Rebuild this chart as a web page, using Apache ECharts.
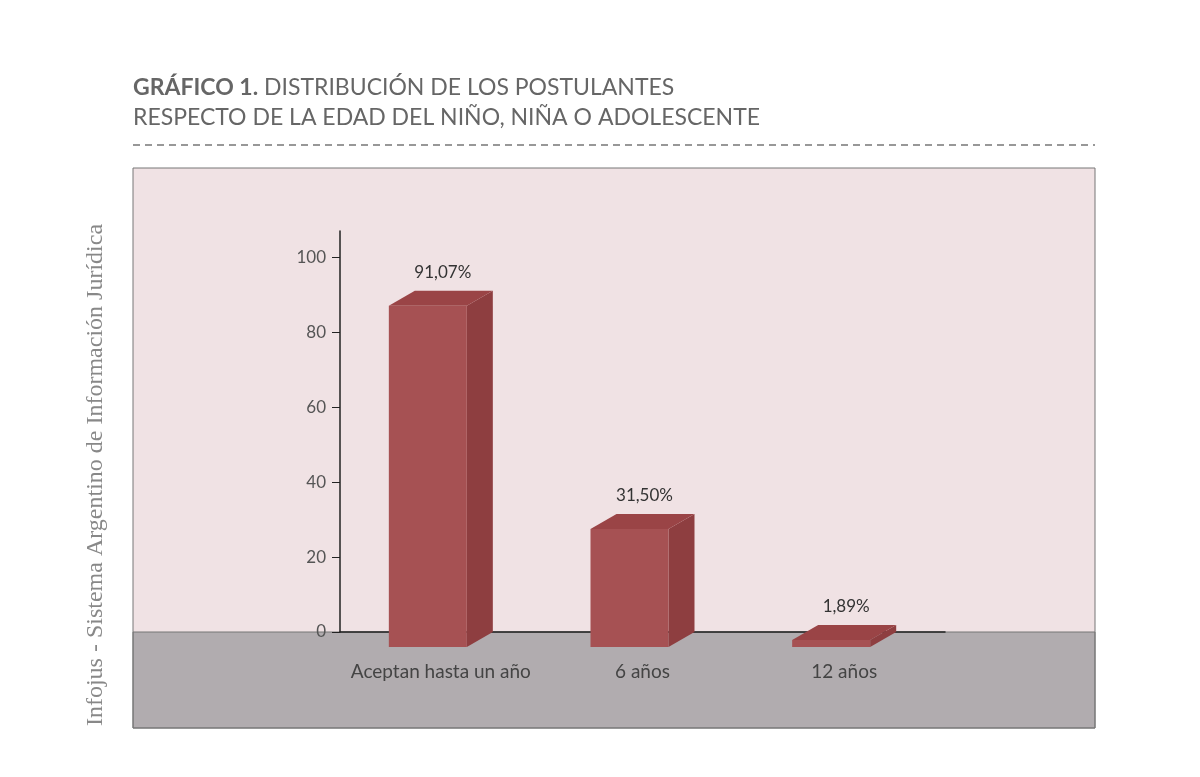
<!DOCTYPE html>
<html>
<head>
<meta charset="utf-8">
<script src="https://cdn.jsdelivr.net/npm/echarts@6/dist/echarts.min.js"></script>
<style>html,body{margin:0;background:#fff}#main{width:1200px;height:777px}</style>
</head>
<body>
<div id="main"></div>
<script>
var categories = ['Aceptan hasta un año', '6 años', '12 años'];
var values = [91.07, 31.50, 1.89];
var valueLabels = ['91,07%', '31,50%', '1,89%'];
var yTicks = [0, 20, 40, 60, 80, 100];

var chart = echarts.init(document.getElementById('main'));

function renderBox(params, api) {
    var idx = api.value(0);
    var p = api.coord([idx, api.value(1)]);
    var base = api.coord([idx, 0]);
    var w = 78, dx = 26, dy = 15;
    var x0 = p[0] - 52, yTop = p[1] + dy, yBot = base[1] + dy;
    return {
        type: 'group',
        children: [
            { type: 'polygon', shape: { points: [[x0 + w, yTop], [x0 + w + dx, yTop - dy], [x0 + w + dx, yBot - dy], [x0 + w, yBot]] },
              style: { fill: '#8e3e40' } },
            { type: 'polygon', shape: { points: [[x0, yTop], [x0 + dx, yTop - dy], [x0 + w + dx, yTop - dy], [x0 + w, yTop]] },
              style: { fill: '#9a4446' } },
            { type: 'rect', shape: { x: x0, y: yTop, width: w, height: yBot - yTop }, style: { fill: '#a65153' } },
            { type: 'text', style: { x: p[0] + 2, y: p[1] - 10, text: valueLabels[idx], fill: '#333',
              font: '17px Lato', align: 'center', verticalAlign: 'bottom' } }
        ]
    };
}

chart.setOption({
    animation: false,
    graphic: [
        { type: 'rect', z: -10, shape: { x: 133, y: 168, width: 962, height: 464 }, style: { fill: '#f0e2e4' } },
        { type: 'rect', z: -10, shape: { x: 133, y: 632, width: 962, height: 96 }, style: { fill: '#b1acaf', stroke: '#777', lineWidth: 1 } },
        { type: 'rect', z: -9, shape: { x: 133, y: 168, width: 962, height: 560 }, style: { fill: 'none', stroke: '#777', lineWidth: 1 } },
        { type: 'text', left: 133, top: 76, style: { rich: { b: { font: 'bold 23px Lato', fill: '#666' }, n: { font: '23px Lato', fill: '#666' } },
          text: '{b|GRÁFICO 1.}{n| DISTRIBUCIÓN DE LOS POSTULANTES}' } },
        { type: 'text', left: 133, top: 106, style: { text: 'RESPECTO DE LA EDAD DEL NIÑO, NIÑA O ADOLESCENTE', font: '23px Lato', fill: '#666' } },
        { type: 'line', shape: { x1: 133, y1: 145, x2: 1095, y2: 145 }, style: { stroke: '#777', lineWidth: 1.5, lineDash: [7, 5] } },
        { type: 'text', x: 96, y: 475, rotation: Math.PI / 2, style: { text: 'Infojus - Sistema Argentino de Información Jurídica',
          font: '24px "Liberation Serif"', fill: '#888', align: 'center', verticalAlign: 'middle' } }
    ],
    grid: { left: 340, right: 255, top: 231, bottom: 145 },
    xAxis: {
        type: 'category', data: categories,
        axisLine: { lineStyle: { color: '#222', width: 1.5 } },
        axisTick: { show: false },
        axisLabel: { interval: 0, color: '#444', fontSize: 19, fontFamily: 'Lato', margin: 30 }
    },
    yAxis: {
        type: 'value', min: 0, max: 107,
        splitLine: { show: false },
        axisLine: { show: true, lineStyle: { color: '#222', width: 1.5 } },
        axisTick: { show: true, length: 8, customValues: yTicks, lineStyle: { color: '#222' } },
        axisLabel: { color: '#555', fontSize: 17, fontFamily: 'Lato', margin: 14, customValues: yTicks }
    },
    series: [{
        type: 'custom', clip: false,
        data: values.map(function (v, i) { return [i, v]; }),
        renderItem: renderBox
    }]
});
</script>
</body>
</html>
